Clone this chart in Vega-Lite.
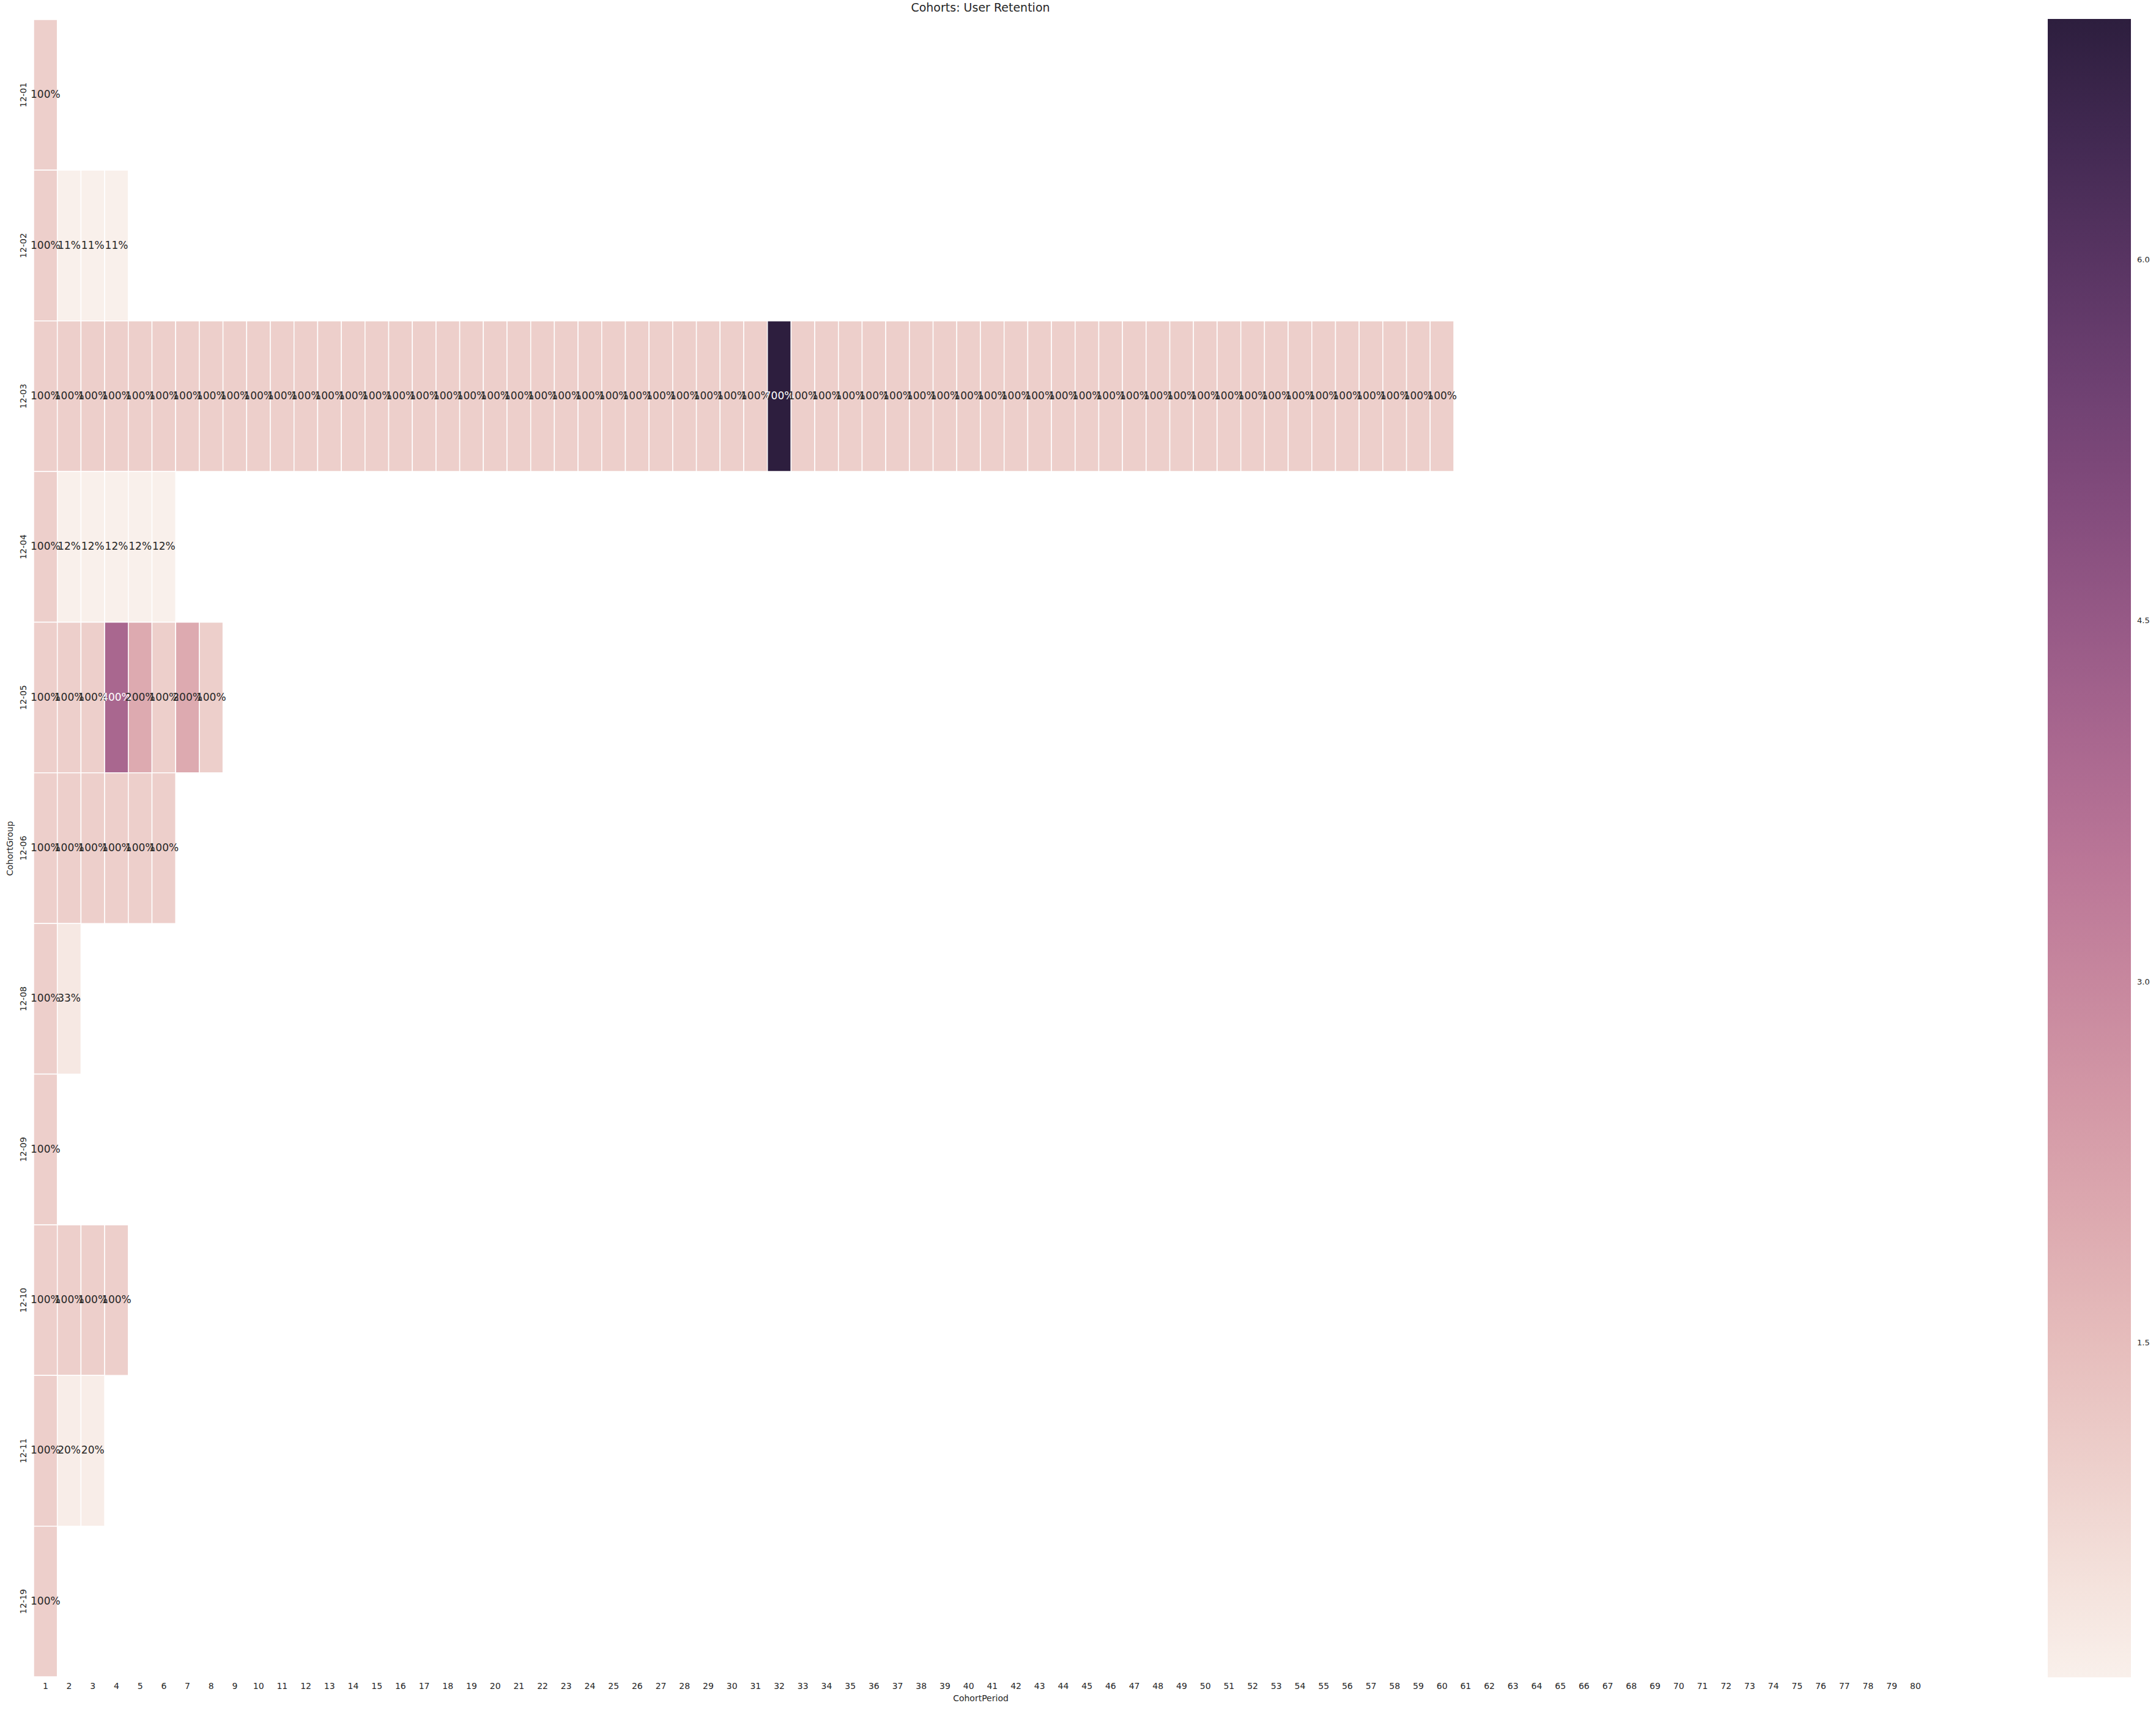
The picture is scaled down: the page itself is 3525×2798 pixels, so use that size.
{
  "$schema": "https://vega.github.io/schema/vega-lite/v6.json",
  "autosize": "none",
  "width": 3096,
  "height": 2710,
  "padding": {"left": 55, "top": 32, "right": 374, "bottom": 56},
  "background": "white",
  "title": {"text": "Cohorts: User Retention", "fontSize": 19, "font": "DejaVu Sans", "fontWeight": "normal", "color": "#262626", "offset": 8},
  "config": {
    "view": {"stroke": null},
    "axis": {"labelFont": "DejaVu Sans", "titleFont": "DejaVu Sans", "labelColor": "#262626", "titleColor": "#262626", "titleFontWeight": "normal", "ticks": false, "domain": false, "grid": false}
  },
  "data": {"values": [
    {"group": "12-01", "period": 1, "value": 1},
    {"group": "12-02", "period": 1, "value": 1},
    {"group": "12-02", "period": 2, "value": 0.111},
    {"group": "12-02", "period": 3, "value": 0.111},
    {"group": "12-02", "period": 4, "value": 0.111},
    {"group": "12-03", "period": 1, "value": 1},
    {"group": "12-03", "period": 2, "value": 1},
    {"group": "12-03", "period": 3, "value": 1},
    {"group": "12-03", "period": 4, "value": 1},
    {"group": "12-03", "period": 5, "value": 1},
    {"group": "12-03", "period": 6, "value": 1},
    {"group": "12-03", "period": 7, "value": 1},
    {"group": "12-03", "period": 8, "value": 1},
    {"group": "12-03", "period": 9, "value": 1},
    {"group": "12-03", "period": 10, "value": 1},
    {"group": "12-03", "period": 11, "value": 1},
    {"group": "12-03", "period": 12, "value": 1},
    {"group": "12-03", "period": 13, "value": 1},
    {"group": "12-03", "period": 14, "value": 1},
    {"group": "12-03", "period": 15, "value": 1},
    {"group": "12-03", "period": 16, "value": 1},
    {"group": "12-03", "period": 17, "value": 1},
    {"group": "12-03", "period": 18, "value": 1},
    {"group": "12-03", "period": 19, "value": 1},
    {"group": "12-03", "period": 20, "value": 1},
    {"group": "12-03", "period": 21, "value": 1},
    {"group": "12-03", "period": 22, "value": 1},
    {"group": "12-03", "period": 23, "value": 1},
    {"group": "12-03", "period": 24, "value": 1},
    {"group": "12-03", "period": 25, "value": 1},
    {"group": "12-03", "period": 26, "value": 1},
    {"group": "12-03", "period": 27, "value": 1},
    {"group": "12-03", "period": 28, "value": 1},
    {"group": "12-03", "period": 29, "value": 1},
    {"group": "12-03", "period": 30, "value": 1},
    {"group": "12-03", "period": 31, "value": 1},
    {"group": "12-03", "period": 32, "value": 7},
    {"group": "12-03", "period": 33, "value": 1},
    {"group": "12-03", "period": 34, "value": 1},
    {"group": "12-03", "period": 35, "value": 1},
    {"group": "12-03", "period": 36, "value": 1},
    {"group": "12-03", "period": 37, "value": 1},
    {"group": "12-03", "period": 38, "value": 1},
    {"group": "12-03", "period": 39, "value": 1},
    {"group": "12-03", "period": 40, "value": 1},
    {"group": "12-03", "period": 41, "value": 1},
    {"group": "12-03", "period": 42, "value": 1},
    {"group": "12-03", "period": 43, "value": 1},
    {"group": "12-03", "period": 44, "value": 1},
    {"group": "12-03", "period": 45, "value": 1},
    {"group": "12-03", "period": 46, "value": 1},
    {"group": "12-03", "period": 47, "value": 1},
    {"group": "12-03", "period": 48, "value": 1},
    {"group": "12-03", "period": 49, "value": 1},
    {"group": "12-03", "period": 50, "value": 1},
    {"group": "12-03", "period": 51, "value": 1},
    {"group": "12-03", "period": 52, "value": 1},
    {"group": "12-03", "period": 53, "value": 1},
    {"group": "12-03", "period": 54, "value": 1},
    {"group": "12-03", "period": 55, "value": 1},
    {"group": "12-03", "period": 56, "value": 1},
    {"group": "12-03", "period": 57, "value": 1},
    {"group": "12-03", "period": 58, "value": 1},
    {"group": "12-03", "period": 59, "value": 1},
    {"group": "12-03", "period": 60, "value": 1},
    {"group": "12-04", "period": 1, "value": 1},
    {"group": "12-04", "period": 2, "value": 0.12},
    {"group": "12-04", "period": 3, "value": 0.12},
    {"group": "12-04", "period": 4, "value": 0.12},
    {"group": "12-04", "period": 5, "value": 0.12},
    {"group": "12-04", "period": 6, "value": 0.12},
    {"group": "12-05", "period": 1, "value": 1},
    {"group": "12-05", "period": 2, "value": 1},
    {"group": "12-05", "period": 3, "value": 1},
    {"group": "12-05", "period": 4, "value": 4},
    {"group": "12-05", "period": 5, "value": 2},
    {"group": "12-05", "period": 6, "value": 1},
    {"group": "12-05", "period": 7, "value": 2},
    {"group": "12-05", "period": 8, "value": 1},
    {"group": "12-06", "period": 1, "value": 1},
    {"group": "12-06", "period": 2, "value": 1},
    {"group": "12-06", "period": 3, "value": 1},
    {"group": "12-06", "period": 4, "value": 1},
    {"group": "12-06", "period": 5, "value": 1},
    {"group": "12-06", "period": 6, "value": 1},
    {"group": "12-08", "period": 1, "value": 1},
    {"group": "12-08", "period": 2, "value": 0.333},
    {"group": "12-09", "period": 1, "value": 1},
    {"group": "12-10", "period": 1, "value": 1},
    {"group": "12-10", "period": 2, "value": 1},
    {"group": "12-10", "period": 3, "value": 1},
    {"group": "12-10", "period": 4, "value": 1},
    {"group": "12-11", "period": 1, "value": 1},
    {"group": "12-11", "period": 2, "value": 0.2},
    {"group": "12-11", "period": 3, "value": 0.2},
    {"group": "12-19", "period": 1, "value": 1}
  ]},
  "encoding": {
    "x": {"field": "period", "type": "ordinal", "title": "CohortPeriod",
      "scale": {"domain": [1,2,3,4,5,6,7,8,9,10,11,12,13,14,15,16,17,18,19,20,21,22,23,24,25,26,27,28,29,30,31,32,33,34,35,36,37,38,39,40,41,42,43,44,45,46,47,48,49,50,51,52,53,54,55,56,57,58,59,60,61,62,63,64,65,66,67,68,69,70,71,72,73,74,75,76,77,78,79,80], "paddingInner": 0, "paddingOuter": 0},
      "axis": {"labelAngle": 0, "labelFontSize": 14, "labelPadding": 8, "titleFontSize": 14, "titlePadding": 6}},
    "y": {"field": "group", "type": "ordinal", "title": "CohortGroup",
      "scale": {"domain": ["12-01","12-02","12-03","12-04","12-05","12-06","12-08","12-09","12-10","12-11","12-19"], "paddingInner": 0, "paddingOuter": 0},
      "axis": {"labelAngle": -90, "labelAlign": "center", "labelBaseline": "bottom", "labelFontSize": 14, "labelPadding": 10, "titleFontSize": 14, "titlePadding": 8}}
  },
  "layer": [
    {
      "mark": {"type": "rect", "stroke": "white", "strokeWidth": 1.5},
      "encoding": {
        "color": {"field": "value", "type": "quantitative",
          "scale": {
            "domain": [0.111, 0.8, 1.489, 2.178, 2.867, 3.556, 4.244, 4.933, 5.622, 6.311, 7.0],
            "range": ["#f9f0eb", "#f0d7d1", "#e6bdbc", "#daa4ac", "#cb8ba0", "#b87496", "#a0608b", "#854d7e", "#683d6e", "#4a2d59", "#2d1e3e"],
            "interpolate": "rgb"},
          "legend": {"title": null, "orient": "none", "legendX": 3293, "legendY": -1, "direction": "vertical",
            "gradientLength": 2712, "gradientThickness": 136, "values": [1.5, 3.0, 4.5, 6.0], "format": ".1f",
            "labelFont": "DejaVu Sans", "labelFontSize": 13, "labelColor": "#262626", "labelOffset": 10, "gradientStrokeWidth": 0, "labelOverlap": false}
        }
      }
    },
    {
      "mark": {"type": "text", "font": "DejaVu Sans", "fontSize": 17, "align": "center", "baseline": "middle"},
      "encoding": {
        "text": {"field": "value", "type": "quantitative", "format": ".0%"},
        "color": {"condition": {"test": "datum.value > 3", "value": "#ffffff"}, "value": "#262626"}
      }
    }
  ]
}
